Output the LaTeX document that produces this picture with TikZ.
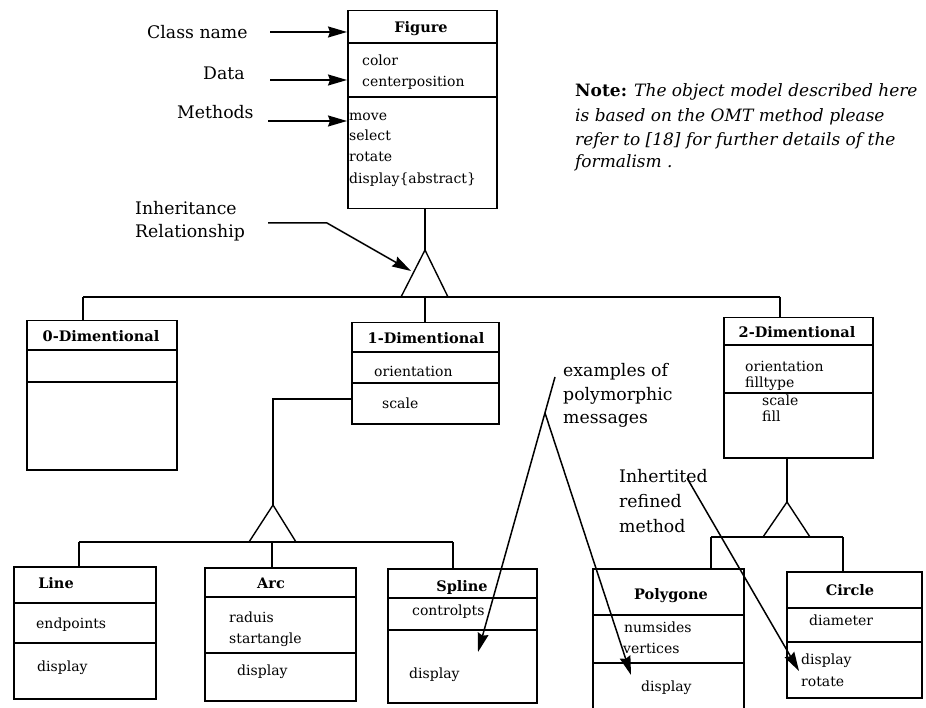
\documentclass[tikz,border=0pt]{standalone}
\usepackage{fontspec}
\setmainfont{DejaVu Serif}
\usetikzlibrary{arrows.meta}

% class box: name, x1, y1, x2, y2 (top-down coordinates)
\newcommand\umlbox[5]{%
  \node[cls, minimum width={(#4-#2)*1pt}, minimum height={(#5-#3)*1pt}] (#1) at (#2,#3) {};}
% horizontal compartment separator inside a class box
\newcommand\umlsep[2]{%
  \coordinate (sepy) at (0,#2);
  \draw[sep] (#1.west |- sepy) -- (#1.east |- sepy);}

\begin{document}
\begin{tikzpicture}[x=1pt,y=-1pt,
  cls/.style={draw, anchor=north west, inner sep=0pt, line width=1.5pt},
  sep/.style={line width=1.5pt},
  ttl/.style={anchor=base, inner sep=0pt, font=\fontsize{14.5}{17}\selectfont\bfseries},
  attr/.style={anchor=base west, inner sep=0pt, font=\fontsize{14}{16}\selectfont},
  lbl/.style={anchor=base west, inner sep=0pt, font=\fontsize{17.3}{20}\selectfont},
  note/.style={anchor=base west, inner sep=0pt, font=\fontsize{17}{20}\selectfont\itshape},
  link/.style={line width=1.4pt},
  ptr/.style={line width=1.5pt, -{Stealth[length=19pt,width=11pt,inset=2pt]}},
]
\useasboundingbox (0,0) rectangle (926,708);
\clip (0,0) rectangle (926,708);

% ---------- class boxes ----------
\umlbox{fig}{347}{10}{496}{208}
\umlsep{fig}{43} \umlsep{fig}{97}
\umlbox{zero}{26}{320}{176}{469}
\umlsep{zero}{350} \umlsep{zero}{382}
\umlbox{one}{351}{322}{498}{423}
\umlsep{one}{352} \umlsep{one}{383}
\umlbox{two}{723}{317}{872}{457}
\umlsep{two}{345} \umlsep{two}{393}
\umlbox{line}{13}{566}{155}{698}
\umlsep{line}{603} \umlsep{line}{643}
\umlbox{arc}{204}{567}{355}{700}
\umlsep{arc}{597} \umlsep{arc}{653}
\umlbox{spline}{387}{568}{536}{702}
\umlsep{spline}{598} \umlsep{spline}{630}
\umlbox{poly}{592}{568}{743}{724}
\umlsep{poly}{615} \umlsep{poly}{663}
\umlbox{circle}{786}{571}{921}{697}
\umlsep{circle}{608} \umlsep{circle}{642}

% ---------- class contents ----------
\node[ttl] (figT) at (421,33) {Figure};
\node[attr] (figA1) at (362,66) {color};
\node[attr] (figA2) at (362,87) {centerposition};
\node[attr] (figM1) at (349,121) {move};
\node[attr] (figM2) at (349,141) {select};
\node[attr] (figM3) at (349,162) {rotate};
\node[attr] (figM4) at (349,184) {display\{abstract\}};

\node[ttl] (zeroT) at (101,342) {0-Dimentional};

\node[ttl] (oneT) at (426,344) {1-Dimentional};
\node[attr] (oneA1) at (374,377) {orientation};
\node[attr] (oneM1) at (382,408) {scale};

\node[ttl] (twoT) at (797,338) {2-Dimentional};
\node[attr] (twoA1) at (745,372) {orientation};
\node[attr] (twoA2) at (745,387) {filltype};
\node[attr] (twoM1) at (762,405) {scale};
\node[attr] (twoM2) at (762,421) {fill};

\node[ttl] (lineT) at (56,588) {Line};
\node[attr] (lineA1) at (36,628) {endpoints};
\node[attr] (lineM1) at (37,671) {display};

\node[ttl] (arcT) at (271,588) {Arc};
\node[attr] (arcA1) at (229,622) {raduis};
\node[attr] (arcA2) at (229,643) {startangle};
\node[attr] (arcM1) at (237,675) {display};

\node[ttl] (splineT) at (462,591) {Spline};
\node[attr] (splineA1) at (412,615) {controlpts};
\node[attr] (splineM1) at (409,678) {display};

\node[ttl] (polyT) at (671,599) {Polygone};
\node[attr] (polyA1) at (624,632) {numsides};
\node[attr] (polyA2) at (623,653) {vertices};
\node[attr] (polyM1) at (641,691) {display};

\node[ttl] (circleT) at (850,595) {Circle};
\node[attr] (circleA1) at (809,625) {diameter};
\node[attr] (circleM1) at (801,664) {display};
\node[attr] (circleM2) at (801,686) {rotate};

% ---------- inheritance structure ----------
\coordinate (ap1) at (425,250);
\coordinate (tl1) at (401,297);
\coordinate (tr1) at (448,297);
\draw[link] (ap1 |- fig.south) -- (ap1);
\draw[link] (tl1) -- (ap1) -- (tr1);
\coordinate (j0) at (83,297);
\coordinate (j1) at (425,297);
\coordinate (j2) at (780,297);
\draw[link] (j0) -- (j2);
\draw[link] (j0) -- (j0 |- zero.north);
\draw[link] (j1) -- (j1 |- one.north);
\draw[link] (j2) -- (j2 |- two.north);

\coordinate (k1) at (273,399);
\coordinate (ap2) at (273,505);
\coordinate (tl2) at (249,542);
\coordinate (tr2) at (296,542);
\draw[link] (k1 -| one.west) -- (k1) -- (ap2);
\draw[link] (tl2) -- (ap2) -- (tr2);
\coordinate (j3) at (79,542);
\coordinate (j4) at (272,542);
\coordinate (j5) at (453,542);
\draw[link] (j3) -- (j5);
\draw[link] (j3) -- (j3 |- line.north);
\draw[link] (j4) -- (j4 |- arc.north);
\draw[link] (j5) -- (j5 |- spline.north);

\coordinate (ap3) at (787,502);
\coordinate (tl3) at (763,537);
\coordinate (tr3) at (810,537);
\draw[link] (ap3 |- two.south) -- (ap3);
\draw[link] (tl3) -- (ap3) -- (tr3);
\coordinate (j6) at (711,537);
\coordinate (j7) at (843,537);
\draw[link] (j6) -- (j7);
\draw[link] (j6) -- (j6 |- poly.north);
\draw[link] (j7) -- (j7 |- circle.north);

% ---------- explanatory labels ----------
\node[lbl] (lclass) at (147,39) {Class name};
\node[lbl] (ldata) at (203,80) {Data};
\node[lbl] (lmeth) at (177,119) {Methods};
\coordinate (p1) at (270,32);
\coordinate (p2) at (270,80);
\coordinate (p3) at (268,121);
\draw[ptr] (p1) -- (p1 -| fig.west);
\draw[ptr] (p2) -- (p2 -| fig.west);
\draw[ptr] (p3) -- (p3 -| fig.west);

\node[lbl] (linh1) at (135,215) {Inheritance};
\node[lbl] (linh2) at (135,238) {Relationship};
\coordinate (q0) at (268,223);
\coordinate (q1) at (327,223);
\coordinate (q2) at (411,271);
\draw[ptr] (q0) -- (q1) -- (q2);

\node[lbl] (lpoly1) at (563,377) {examples of};
\node[lbl] (lpoly2) at (563,400) {polymorphic};
\node[lbl] (lpoly3) at (563,423) {messages};
\coordinate (m0) at (555,377);
\coordinate (m1) at (478,652);
\coordinate (m2) at (545,413);
\coordinate (m3) at (631,675);
\draw[ptr] (m0) -- (m1);
\draw[ptr] (m2) -- (m3);

\node[lbl] (lref1) at (619,482) {Inhertited};
\node[lbl] (lref2) at (619,507) {refined};
\node[lbl] (lref3) at (619,532) {method};
\coordinate (r0) at (687,478);
\coordinate (r1) at (799,671);
\draw[ptr] (r0) -- (r1);

\node[note] (note1) at (575,97) {\textup{\bfseries Note:} The object model described here};
\node[note] (note2) at (575,122) {is based on the OMT method please};
\node[note] (note3) at (575,146) {refer to [18] for further details of the};
\node[note] (note4) at (575,168) {formalism .};
\end{tikzpicture}
\end{document}
